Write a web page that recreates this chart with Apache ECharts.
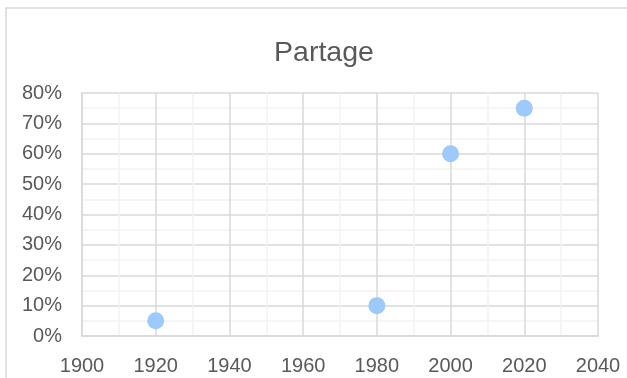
<!DOCTYPE html>
<html>
<head>
<meta charset="utf-8">
<script src="https://cdn.jsdelivr.net/npm/echarts@6/dist/echarts.min.js"></script>
<style>
  html, body { margin: 0; padding: 0; background: #fff; }
  #chart { width: 627px; height: 378px; }
</style>
</head>
<body>
<div id="chart"></div>
<script>
// données du graphique
const years = [1920, 1980, 2000, 2020];
const shares = [5, 10, 60, 75]; // en %
const chartTitle = "Partage";

const chart = echarts.init(document.getElementById("chart"));

const gridColor = "#d9d9d9";
const minorColor = "#f2f2f2";
const textColor = "#595959";
const font = "Liberation Sans, Arial, sans-serif";

const option = {
  animation: false,
  backgroundColor: "#fff",
  // cadre extérieur
  graphic: [
    {
      type: "rect",
      shape: { x: 6, y: 8, width: 700, height: 500 },
      style: { fill: "none", stroke: gridColor, lineWidth: 1.5 },
      silent: true,
      z: -10
    }
  ],
  title: {
    text: chartTitle,
    left: 319,
    top: 34,
    textAlign: "center",
    textStyle: { color: textColor, fontSize: 28.5, fontWeight: "normal", fontFamily: font }
  },
  grid: {
    left: 82,
    top: 93,
    width: 516,
    height: 243,
    show: false
  },
  xAxis: {
    type: "value",
    min: 1900,
    max: 2040,
    interval: 20,
    axisLine: { show: true, lineStyle: { color: gridColor, width: 1.5 } },
    axisTick: { show: false },
    axisLabel: { color: textColor, fontSize: 20, fontFamily: font, margin: 20, formatter: v => String(v) },
    splitLine: { show: true, lineStyle: { color: gridColor, width: 1.5 } },
    minorTick: { show: false, splitNumber: 2 },
    minorSplitLine: { show: true, lineStyle: { color: minorColor, width: 1.5 } }
  },
  yAxis: {
    type: "value",
    min: 0,
    max: 80,
    interval: 10,
    axisLine: { show: true, lineStyle: { color: gridColor, width: 1.5 } },
    axisTick: { show: false },
    axisLabel: { color: textColor, fontSize: 20, fontFamily: font, margin: 20, formatter: "{value}%" },
    splitLine: { show: true, lineStyle: { color: gridColor, width: 1.5 } },
    minorTick: { show: false, splitNumber: 2 },
    minorSplitLine: { show: true, lineStyle: { color: minorColor, width: 1.5 } }
  },
  series: [
    {
      name: chartTitle,
      type: "scatter",
      symbolSize: 17,
      itemStyle: { color: "#9dc9fb", opacity: 1 },
      data: years.map((y, i) => [y, shares[i]])
    }
  ]
};

chart.setOption(option);
</script>
</body>
</html>
